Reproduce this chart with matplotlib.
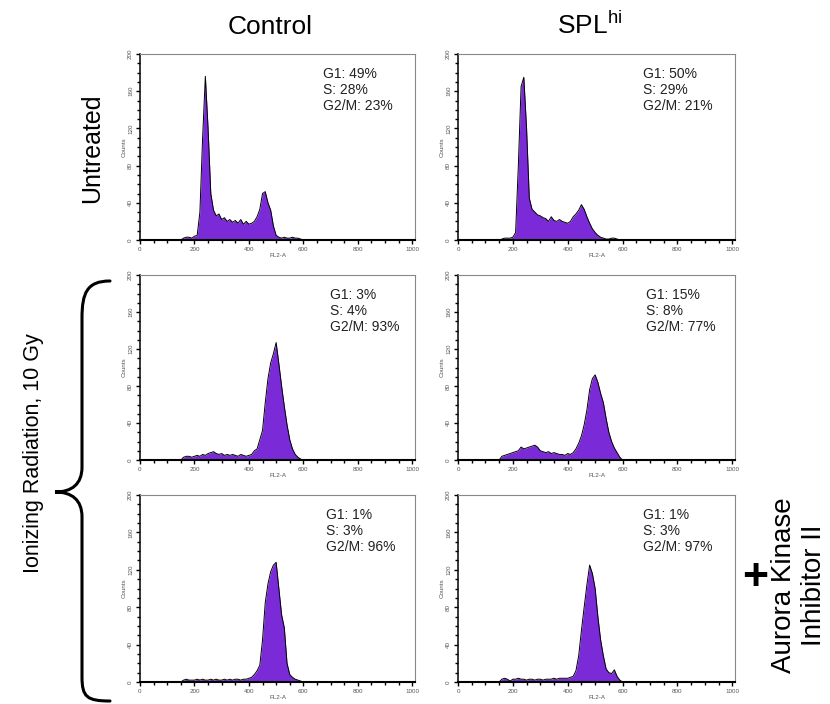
import matplotlib
matplotlib.use('Agg')
import matplotlib.pyplot as plt
from matplotlib.path import Path
from matplotlib.patches import PathPatch
from matplotlib.ticker import MultipleLocator
import numpy as np

plt.rcParams['font.family'] = ['Liberation Sans', 'DejaVu Sans']
plt.rcParams['mathtext.fontset'] = 'custom'
plt.rcParams['mathtext.rm'] = 'Liberation Sans'

# FL2-A channel positions (same for every histogram)
channels = list(range(150, 610, 10))

# counts, row by row
ctrl_untreated = [0, 2, 3, 3, 2, 4, 5, 30, 110, 176, 120, 50, 32, 26, 28, 22, 24, 20, 22, 19,
                  21, 18, 22, 17, 20, 17, 18, 20, 25, 33, 50, 52, 40, 32, 15, 5, 3, 2, 3, 2,
                  2, 3, 2, 2, 1, 0]
spl_untreated = [0, 1, 2, 2, 2, 3, 8, 80, 165, 175, 120, 45, 33, 30, 27, 26, 24, 23, 20, 25,
                 21, 20, 22, 20, 19, 18, 20, 25, 28, 32, 38, 33, 25, 18, 12, 8, 5, 3, 2, 1,
                 1, 2, 2, 1, 0, 0]
ctrl_ir = [0, 3, 4, 4, 3, 4, 5, 4, 6, 5, 7, 8, 9, 7, 6, 7, 5, 6, 5, 6,
           5, 4, 6, 5, 4, 5, 6, 10, 12, 22, 32, 62, 88, 105, 115, 127, 104, 80, 58, 38,
           22, 12, 6, 3, 1, 0]
spl_ir = [0, 4, 5, 6, 7, 8, 9, 10, 14, 12, 13, 14, 15, 16, 14, 10, 9, 8, 9, 7,
          8, 7, 6, 6, 5, 7, 6, 8, 12, 18, 26, 38, 54, 76, 88, 92, 84, 72, 62, 45,
          30, 20, 13, 8, 3, 0]
ctrl_ir_aki = [0, 2, 3, 2, 2, 2, 3, 2, 3, 2, 2, 3, 2, 3, 2, 2, 3, 2, 3, 2,
               3, 3, 2, 3, 3, 4, 5, 8, 12, 18, 45, 85, 105, 118, 125, 128, 100, 72, 58, 20,
               8, 5, 3, 2, 1, 0]
spl_ir_aki = [0, 3, 4, 3, 1, 3, 3, 4, 3, 3, 2, 3, 3, 2, 3, 3, 2, 3, 3, 3,
              4, 3, 4, 4, 4, 4, 5, 6, 12, 28, 55, 80, 104, 125, 116, 100, 70, 45, 28, 14,
              10, 9, 13, 6, 2, 0]

g1_pct = [49, 50, 3, 15, 1, 1]
s_pct = [28, 29, 4, 8, 3, 3]
g2m_pct = [23, 21, 93, 77, 96, 97]

panels = [ctrl_untreated, spl_untreated, ctrl_ir, spl_ir, ctrl_ir_aki, spl_ir_aki]
x_ticks = [0, 200, 400, 600, 800, 1000]
y_ticks = [0, 40, 80, 120, 160, 200]

W, H = 830, 704
fig = plt.figure(figsize=(W / 100, H / 100), dpi=100)

# panel boxes in pixels: (left, top, width, height)
col_x = [(140, 275), (458, 277)]
row_y = [(54, 186), (275, 185), (495, 187)]
text_x = [0.665, 0.668, 0.69, 0.68, 0.675, 0.667]

for i, counts in enumerate(panels):
    r, c = divmod(i, 2)
    left, w = col_x[c]
    top, h = row_y[r]
    ax = fig.add_axes([left / W, (H - top - h) / H, w / W, h / H])
    ax.fill_between(channels, counts, 0, color='#7b2ad8', lw=0)
    ax.plot(channels, counts, color='black', lw=0.7)
    ax.set_xlim(0, 1010)
    ax.set_ylim(0, 200)
    ax.set_xticks(x_ticks)
    ax.set_yticks(y_ticks)
    ax.set_yticklabels([str(v) for v in y_ticks], rotation=90, va='center')
    ax.xaxis.set_minor_locator(MultipleLocator(50))
    ax.yaxis.set_minor_locator(MultipleLocator(10))
    ax.tick_params(which='major', length=3, width=1, direction='out',
                   labelsize=4.5, labelcolor='#555555', pad=2)
    ax.tick_params(which='minor', length=2, width=1, direction='out')
    ax.set_xlabel('FL2-A', fontsize=4.5, color='#555555', labelpad=1)
    ax.set_ylabel('Counts', fontsize=4.5, color='#555555', labelpad=1)
    for side in ['top', 'right']:
        ax.spines[side].set_color('#888888')
        ax.spines[side].set_linewidth(0.8)
    ax.spines['left'].set_linewidth(1.1)
    ax.spines['bottom'].set_linewidth(1.5)
    ax.text(text_x[i], 0.93,
            'G1: {}%\nS: {}%\nG2/M: {}%'.format(g1_pct[i], s_pct[i], g2m_pct[i]),
            transform=ax.transAxes, fontsize=10, color='#222222',
            va='top', ha='left', linespacing=1.2)

# overlay in pixel coordinates for headings, brace and side labels
ov = fig.add_axes([0, 0, 1, 1])
ov.set_xlim(0, W)
ov.set_ylim(H, 0)
ov.axis('off')
ov.patch.set_alpha(0)

ov.text(270, 27, 'Control', fontsize=19, ha='center', va='center')
ov.text(590, 25, 'SPL$^{\\mathrm{hi}}$', fontsize=19, ha='center', va='center')
ov.text(92, 148, 'Untreated', fontsize=18, rotation=90, ha='center', va='center')
ov.text(33, 453, 'Ionizing Radiation, 10 Gy', fontsize=15.5, rotation=90,
        ha='center', va='center')

brace = Path([(110, 281), (87, 281), (82, 293), (82, 318),
              (82, 467),
              (82, 484), (72, 492), (55, 492),
              (72, 492), (82, 500), (82, 517),
              (82, 677),
              (82, 697), (87, 701), (110, 701)],
             [Path.MOVETO, Path.CURVE4, Path.CURVE4, Path.CURVE4,
              Path.LINETO,
              Path.CURVE4, Path.CURVE4, Path.CURVE4,
              Path.CURVE4, Path.CURVE4, Path.CURVE4,
              Path.LINETO,
              Path.CURVE4, Path.CURVE4, Path.CURVE4])
ov.add_patch(PathPatch(brace, facecolor='none', edgecolor='black', lw=2.2,
                       capstyle='round'))

ov.text(755, 578, '+', fontsize=32, fontweight='bold', ha='center', va='center')
ov.text(784, 585, 'Aurora Kinase', fontsize=20, rotation=90, ha='center', va='center')
ov.text(814, 585, 'Inhibitor II', fontsize=20, rotation=90, ha='center', va='center')

fig.savefig('out.png', dpi=100)
